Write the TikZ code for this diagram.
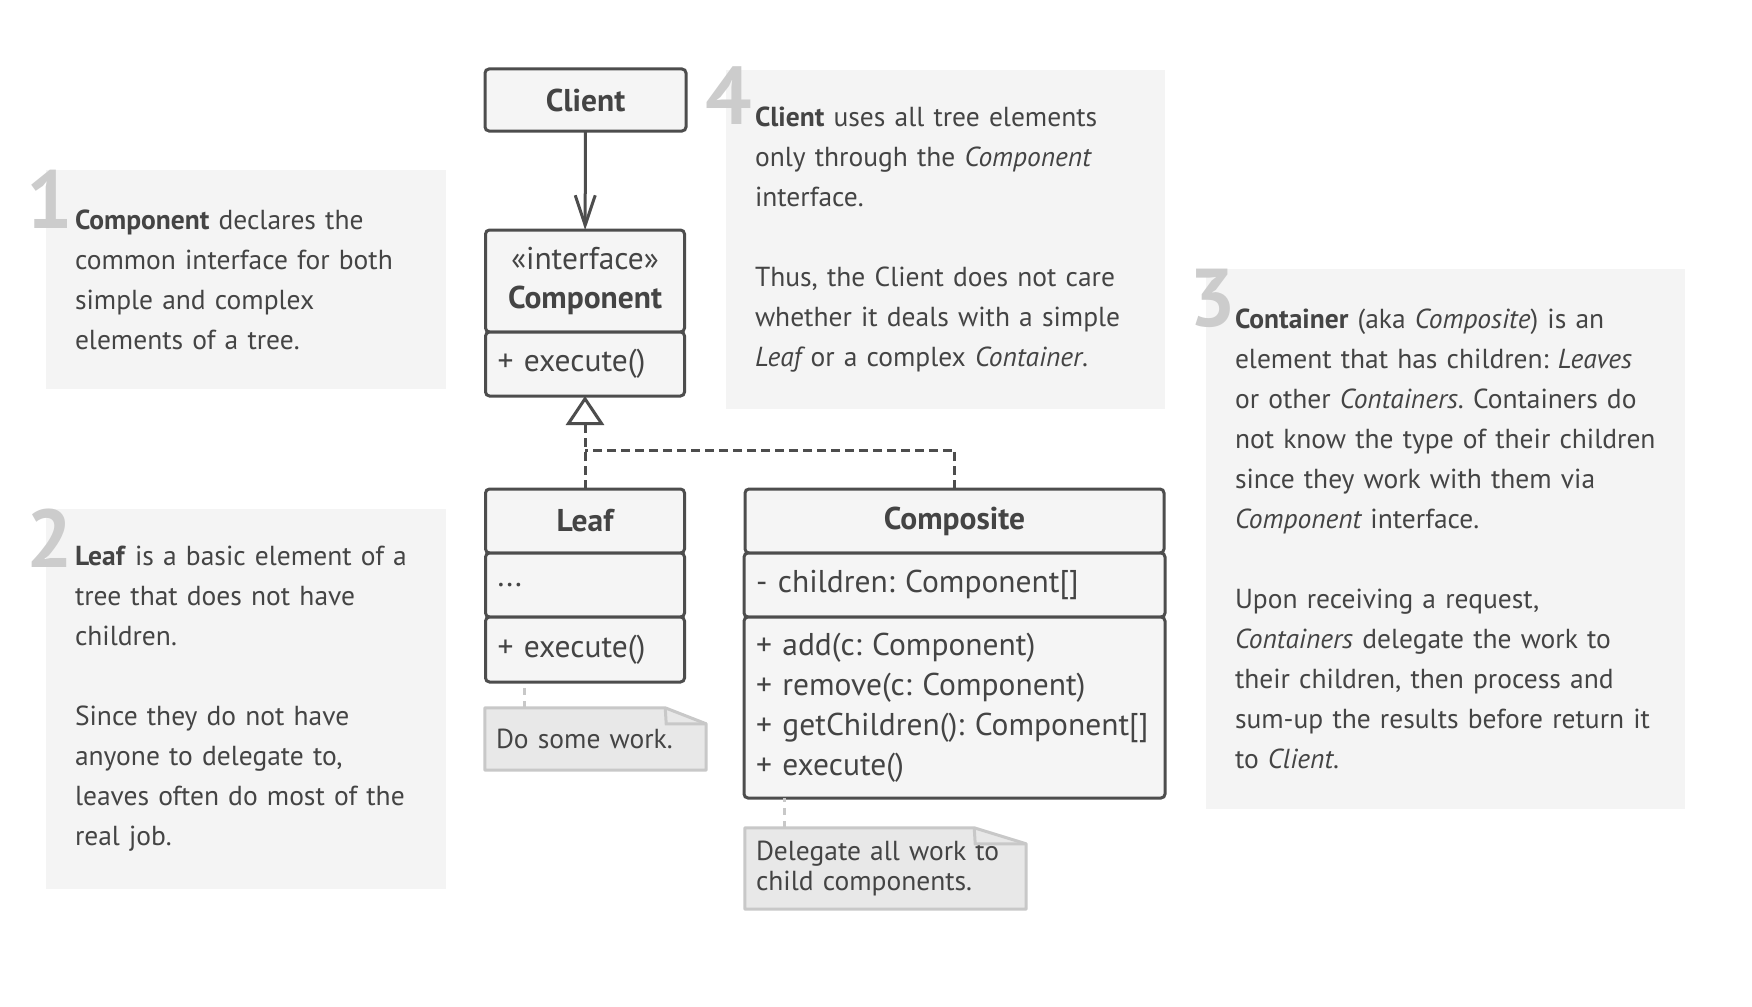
\documentclass[tikz,border=0pt]{standalone}
\usepackage{fontspec}
\setmainfont{PT Sans}
\usepackage{xcolor}
\usepackage{tikz}
\usetikzlibrary{arrows.meta, positioning, backgrounds}
\frenchspacing

\definecolor{ink}{HTML}{444444}
\definecolor{edge}{HTML}{4D4D4D}
\definecolor{classfill}{HTML}{F5F5F5}
\definecolor{panelfill}{HTML}{F4F4F4}
\definecolor{notefill}{HTML}{E8E8E8}
\definecolor{noteedge}{HTML}{C8C8C8}
\definecolor{numgray}{HTML}{CCCCCC}

\begin{document}
\begin{tikzpicture}[x=1pt, y=-1pt,
  cls/.style={draw=edge, fill=classfill, line width=3pt, rounded corners=4pt,
    outer sep=0pt, text=ink, inner xsep=12pt, inner ysep=0pt,
    font=\fontsize{31.5}{40}\selectfont},
  clsname/.style={cls, align=center, font=\fontsize{31.5}{39}\selectfont\bfseries},
  clshead/.style={cls, align=center, font=\fontsize{31.5}{39}\selectfont},
  clsbody/.style={cls, align=left},
  panel/.style={fill=panelfill, text=ink, align=left, inner xsep=29pt,
    inner ysep=0pt, font=\fontsize{27.5}{40}\selectfont},
  num/.style={text=numgray, font=\fontsize{82}{82}\selectfont\bfseries,
    inner sep=0pt, anchor=north west},
  note/.style={text=ink, align=left, inner xsep=11pt, inner ysep=0pt,
    font=\fontsize{27.5}{30}\selectfont},
  noteline/.style={draw=noteedge, fill=notefill, line width=3pt, line join=round},
  link/.style={draw=noteedge, line width=3pt, dash pattern=on 7pt off 6pt},
  uses/.style={draw=edge, line width=3pt,
    -{Straight Barb[length=30pt, width=20pt, line width=3pt]}},
  impl/.style={draw=edge, line width=3pt, dash pattern=on 9pt off 5pt}
]
\begin{scope}[on background layer]
  \fill[white] (0,0) rectangle (1752,1006);
\end{scope}
\useasboundingbox (0,0) rectangle (1752,1006);

%% text panels
\node[panel, minimum width=400pt, minimum height=219pt, text width=342pt] (p1) at (246,279.5)
  {\textbf{Component} declares the\\common interface for both\\simple and complex\\elements of a tree.};
\node[panel, minimum width=400pt, minimum height=380pt, text width=342pt] (p2) at (246,699)
  {\textbf{Leaf} is a basic element of a\\tree that does not have\\children.\\[40pt]Since they do not have\\anyone to delegate to,\\leaves often do most of the\\real job.};
\node[panel, minimum width=439pt, minimum height=339pt, text width=381pt] (p4) at (945.5,239.5)
  {\textbf{Client} uses all tree elements\\only through the {\itshape Component}\\interface.\\[40pt]Thus, the Client does not care\\whether it deals with a simple\\{\itshape Leaf} or a complex {\itshape Container}.};
\node[panel, minimum width=479pt, minimum height=540pt, text width=421pt] (p3) at (1445.5,539)
  {\textbf{Container} (aka {\itshape Composite}) is an\\element that has children: {\itshape Leaves}\\or other {\itshape Containers}. Containers do\\not know the type of their children\\since they work with them via\\{\itshape Component} interface.\\[40pt]Upon receiving a request,\\{\itshape Containers} delegate the work to\\their children, then process and\\sum-up the results before return it\\to {\itshape Client}.};

%% step numbers
\node[num] (n1) at ([xshift=-19pt]p1.north west) {1};
\node[num] (n2) at ([xshift=-19pt]p2.north west) {2};
\node[num] (n4) at ([xshift=-21pt,yshift=3pt]p4.north west) {4};
\node[num] (n3) at ([xshift=-17pt]p3.north west) {3};

%% classes
\node[clsname, minimum width=201pt, minimum height=62pt] (client) at (585.5,100) {Client};

\node[clshead, minimum width=199pt, minimum height=102pt] (comph) at (585,281)
  {«interface»\\\textbf{Component}};
\node[clsbody, minimum width=199pt, minimum height=64pt, text width=175pt,
  below=0pt of comph] (compo) {+ execute()};

\node[clsname, minimum width=199pt, minimum height=64pt] (leafh) at (585,521) {Leaf};
\node[clsbody, minimum width=199pt, minimum height=64pt, text width=175pt,
  below=0pt of leafh] (leafa) {...};
\node[clsbody, minimum width=199pt, minimum height=65pt, text width=175pt,
  below=0pt of leafa] (leafo) {+ execute()};

\node[clsname, minimum width=419pt, minimum height=64pt] (comph2) at (954.5,521) {Composite};
\node[clsbody, minimum width=419pt, minimum height=64pt, text width=397pt,
  below=0pt of comph2] (compa2) {- children: Component[]};
\node[clsbody, minimum width=419pt, minimum height=181pt, text width=397pt,
  below=0pt of compa2] (compo2)
  {+ add(c: Component)\\+ remove(c: Component)\\+ getChildren(): Component[]\\+ execute()};

%% notes
\node[note, minimum width=221pt, minimum height=62pt, text width=199pt] (note1) at (595.5,739)
  {Do some work.};
\node[note, minimum width=281pt, minimum height=81pt, text width=259pt] (note2) at (885.5,868.5)
  {Delegate all work to\\child components.};
\begin{scope}[on background layer]
  \draw[noteline] (note1.south west) -- (note1.north west) -- ([xshift=-41pt]note1.north east)
    -- ([yshift=-16pt]note1.north east) -- (note1.south east) -- cycle;
  \draw[noteline] (note2.south west) -- (note2.north west) -- ([xshift=-52pt]note2.north east)
    -- ([yshift=-16pt]note2.north east) -- (note2.south east) -- cycle;
\end{scope}
\draw[draw=noteedge, line width=3pt] ([xshift=-41pt]note1.north east)
  -- ([xshift=-40pt,yshift=-16pt]note1.north east) -- ([yshift=-16pt]note1.north east);
\draw[draw=noteedge, line width=3pt] ([xshift=-52pt]note2.north east)
  -- ([xshift=-51pt,yshift=-16pt]note2.north east) -- ([yshift=-16pt]note2.north east);

%% connectors
\draw[uses] (client) -- (comph);
\coordinate (fork) at (585,450);
\draw[impl, -{Triangle[length=29pt, width=38pt, line width=3pt, fill=white]}]
  (leafh.north) -- (compo.south);
\draw[impl] (comph2.north) |- (fork);
\draw[link] ([xshift=40pt]note1.north west) -- ([xshift=40pt]note1.north west |- leafo.south);
\draw[link] ([xshift=40pt]note2.north west) -- ([xshift=40pt]note2.north west |- compo2.south);

\end{tikzpicture}
\end{document}
